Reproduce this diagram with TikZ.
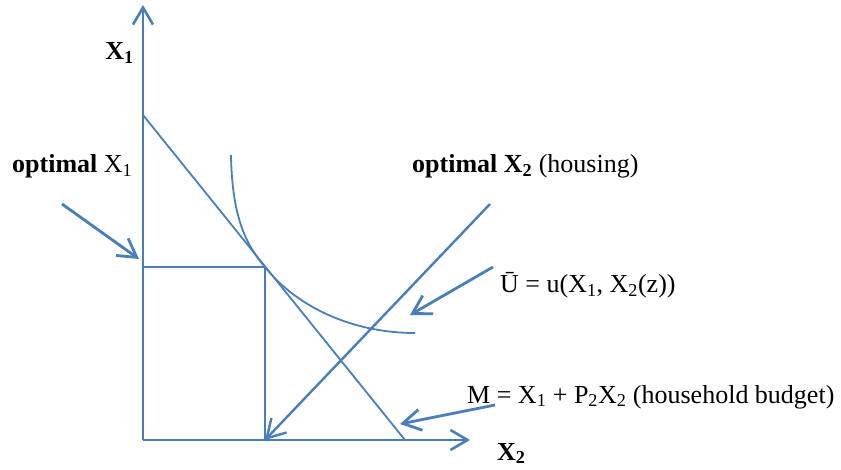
\documentclass[tikz,border=0pt]{standalone}
\usepackage{fontspec}
\setmainfont{Liberation Serif}
\usetikzlibrary{arrows.meta}
\definecolor{lb}{HTML}{4A7EBB}
\begin{document}
\begin{tikzpicture}[x=1pt,y=-1pt,
  axisline/.style={draw=lb, line width=2.6pt, -{Straight Barb[length=17pt,width=20pt]}},
  thinline/.style={draw=lb, line width=1.8pt},
  pointer/.style={draw=lb, line width=2.8pt, -{Straight Barb[length=18pt,width=21pt]}},
  lbl/.style={font=\fontsize{26}{30}\selectfont, inner sep=0pt, anchor=base west}]
\useasboundingbox (0,0) rectangle (841,470);
% key points
\coordinate (O) at (143,440);
\coordinate (Ytop) at (143,5);
\coordinate (Xtip) at (470,440);
\coordinate (B1) at (143,115);
\coordinate (B2) at (405,440);
\coordinate (T) at (265,267);
\coordinate (Tx) at (265,440);
\coordinate (Ty) at (143,267);
\coordinate (I0) at (231,155);
\coordinate (I1) at (415,333);
\coordinate (L0) at (490,204);
\coordinate (A1s) at (62,204);
\coordinate (A1e) at (139,259);
\coordinate (A2s) at (493,267);
\coordinate (A2e) at (410,315);
\coordinate (A3s) at (495,405);
\coordinate (A3e) at (400,424);
% labels
\node[lbl, anchor=base east] (x1) at (134,60) {\bfseries X\textsubscript{1}};
\node[lbl] (optx1) at (12,173) {\textbf{optimal} X\textsubscript{1}};
\node[lbl] (optx2) at (412,173) {\textbf{optimal X\textsubscript{2}} (housing)};
\node[lbl] (util) at (500,293) {Ū = u(X\textsubscript{1}, X\textsubscript{2}(z))};
\node[lbl] (budget) at (467,403) {M = X\textsubscript{1} + P\textsubscript{2}X\textsubscript{2} (household budget)};
\node[lbl] (x2) at (497,460) {\bfseries X\textsubscript{2}};
% budget line, curve, rectangle
\draw[thinline] (B1) -- (B2);
\draw[thinline] (I0) .. controls (232,215) and (245,244) .. (T)
                     .. controls (295,305) and (350,333) .. (I1);
\draw[thinline] (Ty) -- (T) -- (Tx);
% axes
\draw[axisline] (O) -- (Ytop);
\draw[axisline] (O) -- (Xtip);
% pointers
\draw[pointer, line width=2.4pt] (L0) -- (Tx);
\draw[pointer] (A1s) -- (A1e);
\draw[pointer] (A2s) -- (A2e);
\draw[pointer] (A3s) -- (A3e);
\end{tikzpicture}
\end{document}
